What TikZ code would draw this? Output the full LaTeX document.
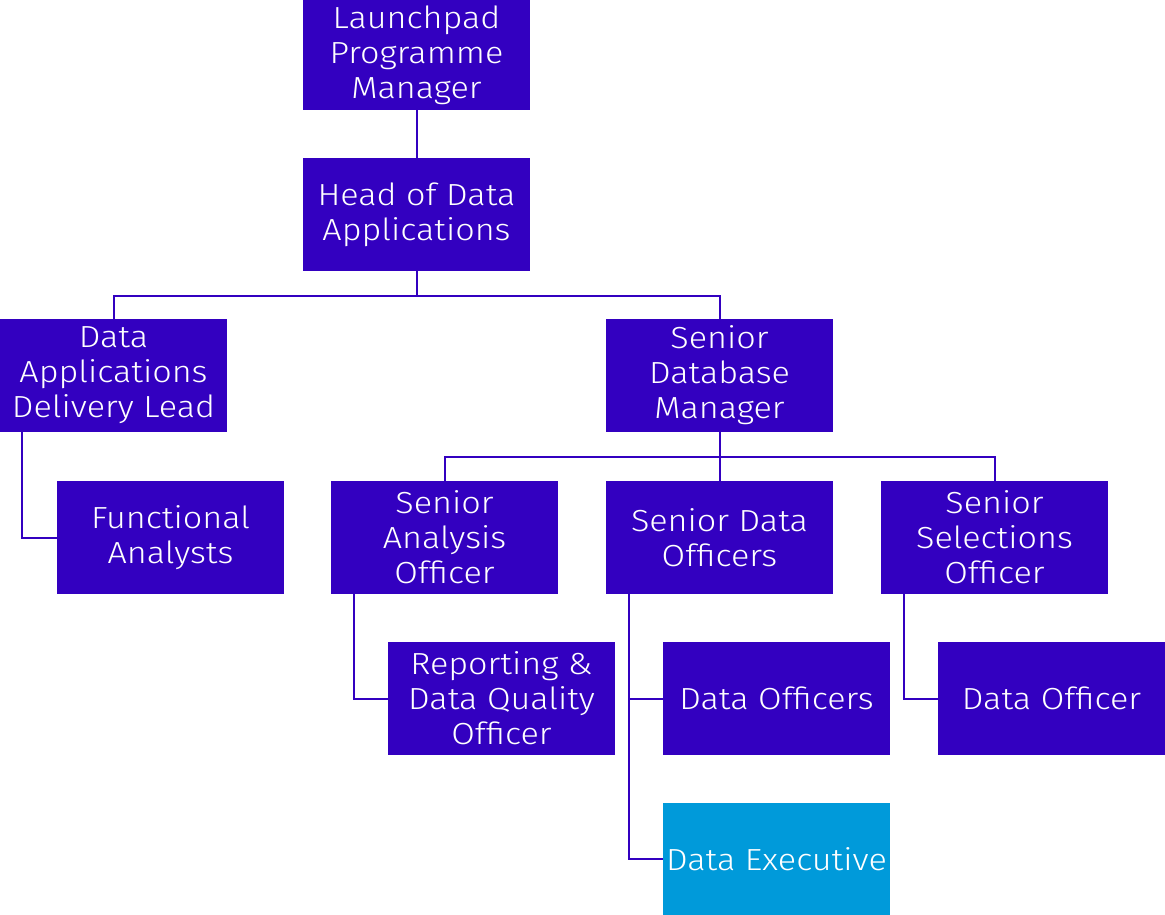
\documentclass[tikz,border=0pt]{standalone}
\usepackage{fontspec}
\setmainfont{Fira Sans Light}[FakeStretch=1.12]
\definecolor{boxpurple}{HTML}{3300C0}
\definecolor{boxblue}{HTML}{009ADA}
\begin{document}
\begin{tikzpicture}[x=1pt,y=-1pt,
  role/.style={fill=boxpurple, text=white, inner sep=0pt, outer sep=0pt,
    minimum width=227pt, minimum height=113pt, align=center,
    font=\fontsize{30.5}{35}\selectfont},
  link/.style={draw=boxpurple, line width=2pt}]
\useasboundingbox (0,0) rectangle (1165,915);

% top of the hierarchy
\node[role, minimum height=110pt] (lpm) at (416.5,55) {Launchpad\\Programme\\Manager};
\node[role] (hoda) at (416.5,214.5) {Head of Data\\Applications};

% second level
\node[role] (dadl) at (113.5,375.5) {Data\\Applications\\Delivery Lead};
\node[role] (sdm)  at (719.5,375.5) {Senior\\Database\\Manager};

% third level
\node[role] (fa)  at (170.5,537.5) {Functional\\Analysts};
\node[role] (sao) at (444.5,537.5) {Senior\\Analysis\\Officer};
\node[role] (sdo) at (719.5,537.5) {Senior Data\\Officers};
\node[role] (sso) at (994.5,537.5) {Senior\\Selections\\Officer};

% fourth level
\node[role] (rdq) at (501.5,698.5) {Reporting \&\\Data Quality\\Officer};
\node[role] (dos) at (776.5,698.5) {Data Officers};
\node[role] (do)  at (1051.5,698.5) {Data Officer};
\node[role, fill=boxblue, minimum height=112pt] (de) at (776.5,859) {Data Executive};

% reporting lines
\draw[link] (lpm.south) -- (hoda.north);
\draw[link] (hoda.south) -- ++(0,25) coordinate (hbus) -| (dadl.north);
\draw[link] (hbus) -| (sdm.north);

\draw[link] (dadl.south west) ++(22,0) |- (fa.west);

\draw[link] (sdm.south) -- ++(0,25) coordinate (sbus) -| (sao.north);
\draw[link] (sbus) -| (sso.north);
\draw[link] (sdm.south) -- (sdo.north);

\draw[link] (sao.south west) ++(23,0) |- (rdq.west);
\draw[link] (sdo.south west) ++(23,0) coordinate (sdotrunk) |- (dos.west);
\draw[link] (sdotrunk) |- (de.west);
\draw[link] (sso.south west) ++(23,0) |- (do.west);
\end{tikzpicture}
\end{document}
